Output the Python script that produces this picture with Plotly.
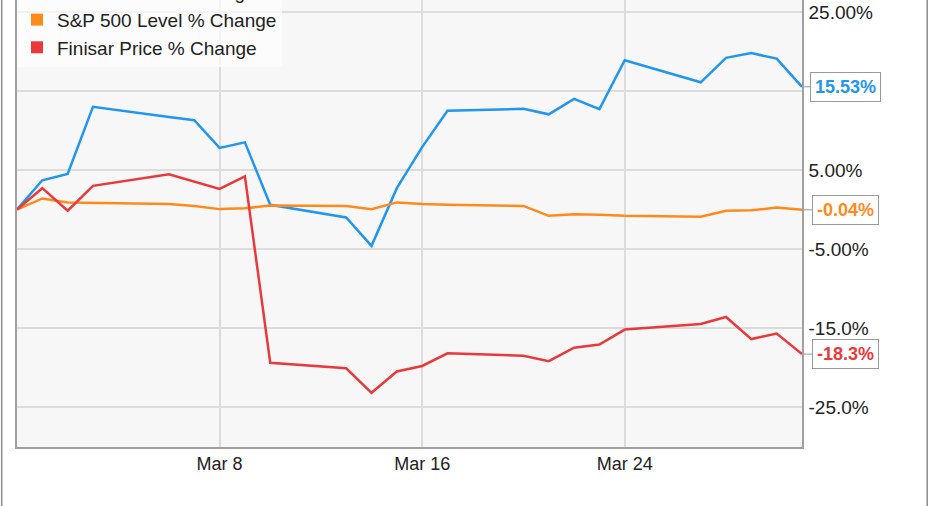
import plotly.graph_objects as go

dates = ["2017-02-28", "2017-03-01", "2017-03-02", "2017-03-03", "2017-03-06",
         "2017-03-07", "2017-03-08", "2017-03-09", "2017-03-10", "2017-03-13",
         "2017-03-14", "2017-03-15", "2017-03-16", "2017-03-17", "2017-03-20",
         "2017-03-21", "2017-03-22", "2017-03-23", "2017-03-24", "2017-03-27",
         "2017-03-28", "2017-03-29", "2017-03-30", "2017-03-31"]

oclaro_pct = [0, 3.7, 4.5, 13.0, 11.7, 11.3, 7.8, 8.5, 0.6, -1.0, -4.6, 2.7,
              7.9, 12.5, 12.75, 12.05, 14.0, 12.7, 18.9, 16.1, 19.2, 19.8, 19.1, 15.53]
sp500_pct = [0, 1.4, 0.9, 0.85, 0.7, 0.45, 0.05, 0.15, 0.5, 0.45, 0.05, 0.9,
             0.7, 0.6, 0.45, -0.8, -0.6, -0.65, -0.8, -0.9, -0.15, -0.1, 0.25, -0.04]
finisar_pct = [0, 2.7, -0.15, 3.0, 4.45, 3.5, 2.6, 4.2, -19.4, -20.1, -23.2, -20.5,
               -19.8, -18.2, -18.5, -19.2, -17.5, -17.1, -15.2, -14.5, -13.6, -16.4, -15.7, -18.3]

series_names = ["Oclaro Price % Change", "S&P 500 Level % Change", "Finisar Price % Change"]
series_colors = ["#2196f0", "#ff8a1c", "#e8393c"]
end_labels = ["15.53%", "-0.04%", "-18.3%"]

# the 15% tick label is hidden behind the 15.53% end label in the reference
y_tickvals = [-25, -15, -5, 5, 15, 25]
y_ticktext = ["-25.0%", "-15.0%", "-5.00%", "5.00%", "", "25.00%"]
x_tickvals = ["2017-03-08", "2017-03-16", "2017-03-24"]
x_ticktext = ["Mar 8", "Mar 16", "Mar 24"]

FONT = "Liberation Sans, Arial, sans-serif"
series_values = [oclaro_pct, sp500_pct, finisar_pct]

fig = go.Figure()
for name, vals, col in zip(series_names, series_values, series_colors):
    fig.add_trace(go.Scatter(x=dates, y=vals, mode="lines", name=name,
                             line=dict(color=col, width=2.5), showlegend=False,
                             hoverinfo="skip"))
# legend entries with square swatches
for name, col in zip(series_names, series_colors):
    fig.add_trace(go.Scatter(x=[None], y=[None], mode="markers", name=name,
                             legendgroup=name,
                             marker=dict(symbol="square", size=12, color=col)))

for vals, col, lab in zip(series_values, series_colors, end_labels):
    fig.add_annotation(x=dates[-1], y=vals[-1], xref="x", yref="y", text="<b>%s</b>" % lab,
                       showarrow=True, ax=43, ay=0, arrowhead=0, arrowwidth=1,
                       arrowcolor="#9a9a9a", standoff=0, bgcolor="white",
                       bordercolor="#9a9a9a", borderwidth=1, borderpad=4,
                       font=dict(family=FONT, size=18, color=col))

# outer frame of the chart image
for xp in (-0.0195, 1.1595):
    fig.add_shape(type="line", xref="paper", yref="paper", x0=xp, x1=xp, y0=-0.2, y1=1.2,
                  line=dict(color="#8c8c8c", width=1.5))

fig.update_layout(
    width=931, height=506,
    margin=dict(l=17, r=129, t=0, b=59, autoexpand=False),
    paper_bgcolor="white", plot_bgcolor="#f7f7f7",
    font=dict(family=FONT, size=18, color="#222"),
    legend=dict(x=0, y=0.85, xanchor="left", yanchor="bottom",
                bgcolor="rgba(255,255,255,0.65)", borderwidth=0,
                font=dict(family=FONT, size=19, color="#222"),
                tracegroupgap=0, traceorder="grouped"),
    xaxis=dict(type="date", range=["2017-02-28", "2017-03-31"],
               tickvals=x_tickvals, ticktext=x_ticktext,
               showgrid=True, gridcolor="#dcdcdc", gridwidth=1.5,
               showline=True, linecolor="#a0a0a0", linewidth=1.5,
               ticks="", tickfont=dict(family=FONT, size=18, color="#222"),
               zeroline=False),
    yaxis=dict(side="right", range=[-30.06, 26.52],
               tickvals=y_tickvals, ticktext=y_ticktext,
               showgrid=True, gridcolor="#dcdcdc", gridwidth=1.5,
               showline=True, mirror=True, linecolor="#a0a0a0", linewidth=1.5,
               ticks="", ticklabelstandoff=1,
               tickfont=dict(family=FONT, size=19, color="#222"),
               zeroline=False),
)

fig.write_html("out.html", config={"displayModeBar": False},
               post_script="document.body.style.margin='0';document.body.style.overflow='hidden';")
